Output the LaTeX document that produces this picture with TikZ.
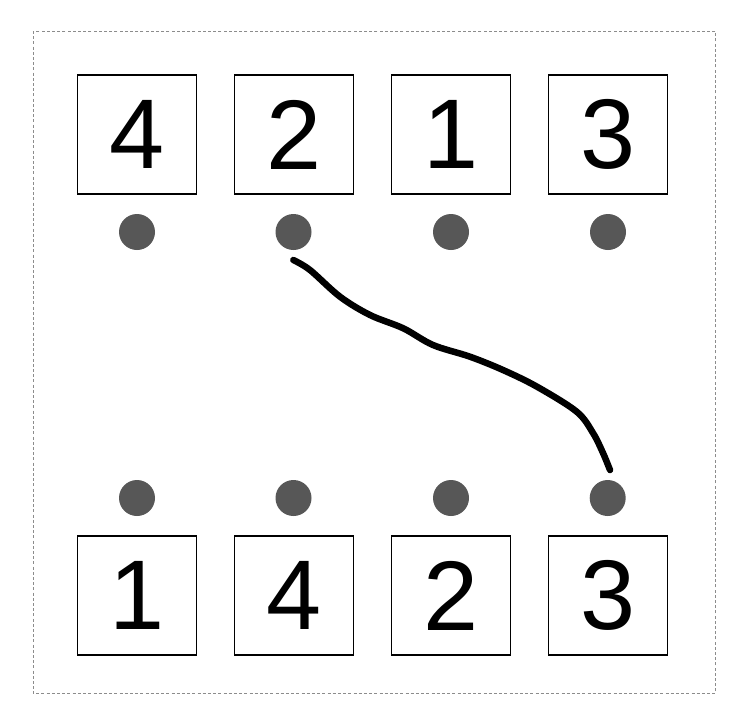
\documentclass[tikz,border=0pt]{standalone}
\usepackage{fontspec}
\setmainfont{Liberation Sans}
\begin{document}
\begin{tikzpicture}[x=1pt,y=-1pt,
  numbox/.style={draw=black,line width=1.1pt,minimum width=119pt,minimum height=119pt,inner sep=0pt,font=\fontsize{99}{99}\selectfont},
  pin/.style={circle,fill=black!66,minimum size=36pt,inner sep=0pt},
  stroke/.style={line width=6.5pt,line cap=round,line join=round}]
\useasboundingbox (0,0) rectangle (749,724);
\fill[white] (0,0) rectangle (749,724);
\draw[gray!90,line width=0.8pt,dash pattern=on 3pt off 2.2pt] (33,31) rectangle (715.5,693.3);
% top row
\node[numbox] (t1) at (137,134.5) {4};
\node[numbox] (t2) at (294,134.5) {2};
\node[numbox] (t3) at (451,134.5) {1};
\node[numbox] (t4) at (608,134.5) {3};
\node[pin] (p1) at (137,232) {};
\node[pin] (p2) at (293.5,232) {};
\node[pin] (p3) at (451,232) {};
\node[pin] (p4) at (608,232) {};
% bottom row
\node[numbox] (b1) at (137,595.5) {1};
\node[numbox] (b2) at (294,595.5) {4};
\node[numbox] (b3) at (451,595.5) {2};
\node[numbox] (b4) at (608,595.5) {3};
\node[pin] (q1) at (137,498) {};
\node[pin] (q2) at (293.5,498) {};
\node[pin] (q3) at (451,498) {};
\node[pin] (q4) at (607.7,498) {};
% curve
\coordinate (cs) at (293.3,260);
\coordinate (ce) at (610,470);
\draw[stroke] plot[smooth,tension=0.55] coordinates {(cs) (310,270) (340,296.7) (370,315) (403.3,328.3) (433,345) (470,356.7) (503,370) (537,386.7) (576.7,411.7) (593,433) (603,453) (ce)};
\end{tikzpicture}
\end{document}
